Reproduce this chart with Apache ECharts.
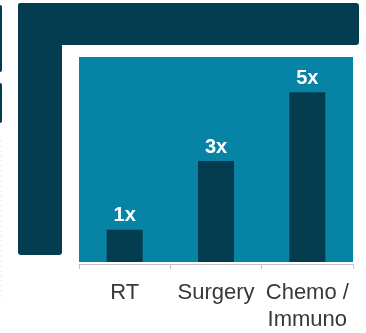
<!DOCTYPE html>
<html>
<head>
<meta charset="utf-8">
<script src="https://cdn.jsdelivr.net/npm/echarts@6/dist/echarts.min.js"></script>
<style>
html,body{margin:0;padding:0;background:#fff;}
#main{width:366px;height:333px;}
</style>
</head>
<body>
<div id="main"></div>
<script>
var categories = ['RT', 'Surgery', 'Chemo /\nImmuno'];
var values = [1, 3, 5];
var valueLabels = ['1x', '3x', '5x'];

var DARK = '#033b4f';
var TEAL = '#0784a5';

var chart = echarts.init(document.getElementById('main'), null, {renderer: 'canvas'});
chart.setOption({
  animation: false,
  backgroundColor: '#ffffff',
  grid: {
    left: 79, right: 13, top: 57, bottom: 67,
    show: true, backgroundColor: TEAL, borderWidth: 0
  },
  graphic: [
    {type: 'rect', shape: {x: 18, y: 3, width: 341, height: 42, r: 3}, style: {fill: DARK}, z: -1},
    {type: 'rect', shape: {x: 18, y: 3, width: 44, height: 252, r: 3}, style: {fill: DARK}, z: -1},
    {type: 'rect', shape: {x: -4, y: 5, width: 6, height: 67, r: 2}, style: {fill: DARK}, z: -1},
    {type: 'rect', shape: {x: -4, y: 83, width: 6, height: 40, r: 2}, style: {fill: DARK}, z: -1},
    {type: 'line', shape: {x1: 1, y1: 140, x2: 1, y2: 300}, style: {stroke: '#ece6ea', lineWidth: 1, lineDash: [2, 3]}, z: -1}
  ],
  xAxis: {
    type: 'category',
    data: categories,
    offset: 2,
    axisLine: {show: true, lineStyle: {color: '#c4c4c4', width: 1}},
    axisTick: {show: true, length: 5, lineStyle: {color: '#c4c4c4'}},
    axisLabel: {
      color: '#383838', fontSize: 22, fontFamily: 'Liberation Sans, Arial, sans-serif',
      lineHeight: 27, margin: 15, interval: 0
    }
  },
  yAxis: {
    type: 'value',
    min: 0.06, max: 6.03,
    show: false,
    splitLine: {show: false}
  },
  series: [{
    type: 'bar',
    data: values,
    barWidth: 36,
    itemStyle: {color: DARK},
    label: {
      show: true, position: 'top', distance: 4,
      color: '#ffffff', fontSize: 20, fontWeight: 'bold',
      fontFamily: 'Liberation Sans, Arial, sans-serif',
      formatter: function (p) { return valueLabels[p.dataIndex]; }
    }
  }]
});
</script>
</body>
</html>
